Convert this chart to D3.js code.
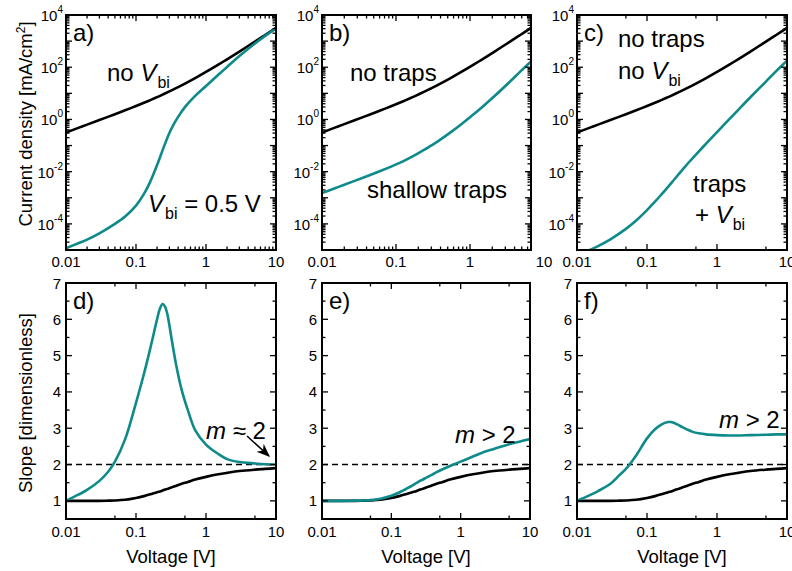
<!DOCTYPE html>
<html>
<head>
<meta charset="utf-8">
<script src="https://cdn.jsdelivr.net/npm/d3@7"></script>
<style>
  body { margin: 0; background: #fff; }
  svg text { font-family: "Liberation Sans", Arial, sans-serif; fill: #000; }
</style>
</head>
<body>
<div id="chart"></div>
<script>
// voltage grid for the J-V curves (top row)
var voltJ = [0.01, 0.015, 0.02, 0.03, 0.05, 0.07, 0.1, 0.13, 0.16, 0.2, 0.25, 0.3, 0.35, 0.4, 0.5, 0.7, 1, 1.5, 2, 3, 5, 7, 10];
// log10 of current density [mA/cm2]
var logJNoVbi   = [-0.5, -0.324, -0.199, -0.023, 0.201, 0.352, 0.514, 0.638, 0.74, 0.854, 0.973, 1.073, 1.16, 1.237, 1.371, 1.582, 1.819, 2.099, 2.304, 2.6, 2.98, 3.234, 3.506];
var logJVbi     = [-4.93, -4.74, -4.6, -4.36, -4.0, -3.72, -3.3, -2.85, -2.38, -1.75, -1.05, -0.52, -0.16, 0.1, 0.47, 0.9, 1.28, 1.71, 2.01, 2.43, 2.91, 3.2, 3.49];
var logJShallow = [-2.82, -2.644, -2.519, -2.343, -2.119, -1.967, -1.797, -1.662, -1.548, -1.415, -1.271, -1.148, -1.039, -0.942, -0.772, -0.495, -0.182, 0.196, 0.479, 0.896, 1.451, 1.83, 2.22];
var logJTrapsVbi= [-5.21, -5.01, -4.85, -4.59, -4.19, -3.87, -3.47, -3.15, -2.88, -2.58, -2.27, -2.02, -1.81, -1.63, -1.344, -0.924, -0.484, 0.01, 0.36, 0.85, 1.45, 1.85, 2.25];

// voltage grid for the slope curves (bottom row)
var voltS = [0.01, 0.015, 0.02, 0.03, 0.04, 0.05, 0.07, 0.1, 0.13, 0.16, 0.2, 0.22, 0.24, 0.26, 0.28, 0.32, 0.37, 0.45, 0.55, 0.7, 1, 1.5, 2, 3, 5, 7, 10];
var slopeNoVbi   = [1.0, 1.0, 1.0, 1.0, 1.005, 1.01, 1.03, 1.08, 1.13, 1.18, 1.24, 1.26, 1.285, 1.31, 1.33, 1.37, 1.41, 1.47, 1.52, 1.59, 1.66, 1.73, 1.77, 1.82, 1.86, 1.88, 1.9];
var slopeVbi     = [1.0, 1.17, 1.3, 1.55, 1.8, 2.08, 2.7, 3.7, 4.5, 5.2, 6.0, 6.3, 6.42, 6.35, 6.15, 5.5, 4.8, 4.05, 3.5, 2.95, 2.55, 2.29, 2.15, 2.07, 2.03, 2.01, 2.0];
var slopeShallow = [1.0, 1.0, 1.0, 1.005, 1.01, 1.02, 1.06, 1.14, 1.23, 1.32, 1.42, 1.47, 1.51, 1.55, 1.58, 1.64, 1.7, 1.79, 1.87, 1.96, 2.08, 2.22, 2.32, 2.43, 2.56, 2.63, 2.7];
var slopeTrapsVbi= [1.0, 1.15, 1.27, 1.47, 1.7, 1.88, 2.25, 2.72, 2.97, 3.1, 3.17, 3.17, 3.15, 3.12, 3.09, 3.03, 2.97, 2.9, 2.86, 2.83, 2.81, 2.8, 2.8, 2.81, 2.82, 2.83, 2.83];

var xTickLabels = ["0.01", "0.1", "1", "10"];
var jTickExps = [-4, -2, 0, 2, 4];
var slopeTicks = [1, 2, 3, 4, 5, 6, 7];

var black = "#000000", teal = "#0f8a8a";

var W = 792, H = 571;
var colLeft = [66, 322, 577], panelW = 210;
var rowTop = [15, 283], panelH = [235, 236];

var svg = d3.select("#chart").append("svg")
    .attr("width", W).attr("height", H);

var defs = svg.append("defs");
defs.append("marker")
    .attr("id", "arrow").attr("viewBox", "0 0 10 10")
    .attr("refX", 9).attr("refY", 5)
    .attr("markerWidth", 9).attr("markerHeight", 9)
    .attr("orient", "auto")
    .append("path").attr("d", "M0,1 L10,5 L0,9 L3,5 Z").attr("fill", "#000");

// inward ticks on all four sides
function drawFrame(g, x, y, xTicks, yTicks, w, h) {
    xTicks.forEach(function (t) {
        var px = x(t.v);
        if (px < -0.5 || px > w + 0.5) return;
        g.append("line").attr("x1", px).attr("x2", px).attr("y1", h).attr("y2", h - t.len)
            .attr("stroke", "#000").attr("stroke-width", 1.3);
        g.append("line").attr("x1", px).attr("x2", px).attr("y1", 0).attr("y2", t.len)
            .attr("stroke", "#000").attr("stroke-width", 1.3);
    });
    yTicks.forEach(function (t) {
        var py = y(t.v);
        g.append("line").attr("x1", 0).attr("x2", t.len).attr("y1", py).attr("y2", py)
            .attr("stroke", "#000").attr("stroke-width", 1.3);
        g.append("line").attr("x1", w).attr("x2", w - t.len).attr("y1", py).attr("y2", py)
            .attr("stroke", "#000").attr("stroke-width", 1.3);
    });
    g.append("rect").attr("width", w).attr("height", h)
        .attr("fill", "none").attr("stroke", "#000").attr("stroke-width", 2);
}

function logXTicks(dense) {
    var out = [];
    [-2, -1, 0].forEach(function (d) {
        out.push({ v: Math.pow(10, d), len: 6 });
        var ks = dense ? [2, 3, 4, 5, 6, 7, 8, 9] : [5];
        ks.forEach(function (k) { out.push({ v: k * Math.pow(10, d), len: 3.5 }); });
    });
    out.push({ v: 10, len: 6 });
    return out;
}

function addClip(id, w, h) {
    defs.append("clipPath").attr("id", id).append("rect").attr("width", w).attr("height", h);
}

function vbi(text, x, y, before, after) {
    var t = text.append("text").attr("x", x).attr("y", y).attr("font-size", 24);
    if (before) t.append("tspan").text(before);
    t.append("tspan").attr("font-style", "italic").text("V");
    t.append("tspan").attr("font-size", 16).attr("dy", 7).attr("dx", 1).text("bi");
    if (after) t.append("tspan").attr("dy", -7).text(after);
    return t;
}

// ---------- top row: J-V ----------
var topPanels = [
    { label: "a)", series: [logJNoVbi, logJVbi], dense: true, tickEnd: 210 },
    { label: "b)", series: [logJNoVbi, logJShallow], dense: true, tickEnd: 222 },
    { label: "c)", series: [logJNoVbi, logJTrapsVbi], dense: false, tickEnd: 210 }
];

topPanels.forEach(function (p, i) {
    var w = i === 1 ? 209 : panelW, h = panelH[0];
    var g = svg.append("g").attr("transform", "translate(" + colLeft[i] + "," + rowTop[0] + ")");
    var x = d3.scaleLog().domain([0.01, 10]).range([0, w]);
    var xt = d3.scaleLog().domain([0.01, 10]).range([0, p.tickEnd]);
    var y = d3.scaleLog().domain([1e-5, 1e4]).range([h, 0]);
    addClip("clipT" + i, w, h);

    var line = d3.line()
        .x(function (d) { return x(d[0]); })
        .y(function (d) { return y(Math.pow(10, d[1])); })
        .curve(d3.curveCatmullRom.alpha(0.5));
    var cg = g.append("g").attr("clip-path", "url(#clipT" + i + ")");
    p.series.forEach(function (s, k) {
        cg.append("path").datum(voltJ.map(function (v, j) { return [v, s[j]]; }))
            .attr("d", line).attr("fill", "none")
            .attr("stroke", k === 0 ? black : teal).attr("stroke-width", 2.6);
    });

    var yt = [];
    for (var e = -5; e <= 4; e++) {
        yt.push({ v: Math.pow(10, e), len: 6 });
        if (e < 4) for (var k = 2; k <= 9; k++) yt.push({ v: k * Math.pow(10, e), len: 3.5 });
    }
    drawFrame(g, xt, y, logXTicks(p.dense), yt, w, h);

    xTickLabels.forEach(function (s) {
        g.append("text").attr("x", xt(+s)).attr("y", h + 17).attr("text-anchor", "middle")
            .attr("font-size", 15).text(s);
    });
    jTickExps.forEach(function (ex) {
        var t = g.append("text").attr("x", -3).attr("y", y(Math.pow(10, ex)) + 6)
            .attr("text-anchor", "end").attr("font-size", 15);
        t.append("tspan").text("10");
        t.append("tspan").attr("font-size", 10).attr("dy", -8).text(ex);
    });
    g.append("text").attr("x", 7).attr("y", 26).attr("font-size", 24).text(p.label);
});

// top annotations
var gA = svg.append("g").attr("transform", "translate(" + colLeft[0] + "," + rowTop[0] + ")");
vbi(gA, 41, 66, "no ", null);
vbi(gA, 82, 197, null, " = 0.5 V");
var gB = svg.append("g").attr("transform", "translate(" + colLeft[1] + "," + rowTop[0] + ")");
gB.append("text").attr("x", 28).attr("y", 66).attr("font-size", 24).text("no traps");
gB.append("text").attr("x", 45).attr("y", 183).attr("font-size", 24).text("shallow traps");
var gC = svg.append("g").attr("transform", "translate(" + colLeft[2] + "," + rowTop[0] + ")");
gC.append("text").attr("x", 41).attr("y", 32).attr("font-size", 24).text("no traps");
vbi(gC, 41, 64, "no ", null);
gC.append("text").attr("x", 116).attr("y", 177).attr("font-size", 24).text("traps");
vbi(gC, 118, 208, "+ ", null);

// ---------- bottom row: slope ----------
var botPanels = [
    { label: "d)", series: [slopeNoVbi, slopeVbi], note: "\u2248 2" },
    { label: "e)", series: [slopeNoVbi, slopeShallow], note: "> 2" },
    { label: "f)", series: [slopeNoVbi, slopeTrapsVbi], note: "> 2" }
];

botPanels.forEach(function (p, i) {
    var w = i === 1 ? 208 : panelW, h = panelH[1];
    var g = svg.append("g").attr("transform", "translate(" + colLeft[i] + "," + rowTop[1] + ")");
    var x = d3.scaleLog().domain([0.01, 10]).range([0, w]);
    var y = d3.scaleLinear().domain([0.5, 7]).range([h, 0]);
    addClip("clipB" + i, w, h);

    g.append("line").attr("x1", 0).attr("x2", w).attr("y1", y(2)).attr("y2", y(2))
        .attr("stroke", "#000").attr("stroke-width", 1.5).attr("stroke-dasharray", "6,4");

    var line = d3.line()
        .x(function (d) { return x(d[0]); })
        .y(function (d) { return y(d[1]); })
        .curve(d3.curveCatmullRom.alpha(0.5));
    var cg = g.append("g").attr("clip-path", "url(#clipB" + i + ")");
    p.series.forEach(function (s, k) {
        cg.append("path").datum(voltS.map(function (v, j) { return [v, s[j]]; }))
            .attr("d", line).attr("fill", "none")
            .attr("stroke", k === 0 ? black : teal).attr("stroke-width", 2.6);
    });

    var yt = [];
    for (var v = 0.5; v <= 7; v += 0.5) yt.push({ v: v, len: v % 1 === 0 ? 6 : 3.5 });
    drawFrame(g, x, y, logXTicks(false), yt, w, h);

    xTickLabels.forEach(function (s) {
        g.append("text").attr("x", x(+s)).attr("y", h + 18).attr("text-anchor", "middle")
            .attr("font-size", 15).text(s);
    });
    slopeTicks.forEach(function (s) {
        g.append("text").attr("x", -5).attr("y", y(s) + 5.5).attr("text-anchor", "end")
            .attr("font-size", 15).text(s);
    });
    g.append("text").attr("x", w / 2).attr("y", h + 44).attr("text-anchor", "middle")
        .attr("font-size", 18.5).text("Voltage [V]");
    g.append("text").attr("x", 7).attr("y", 26).attr("font-size", 24).text(p.label);
});

// bottom annotations
function mText(g, x, y, rest) {
    var t = g.append("text").attr("x", x).attr("y", y).attr("font-size", 24);
    t.append("tspan").attr("font-style", "italic").text("m");
    t.append("tspan").text(" " + rest);
}
var gD = svg.append("g").attr("transform", "translate(" + colLeft[0] + "," + rowTop[1] + ")");
mText(gD, 140, 156, botPanels[0].note);
gD.append("line").attr("x1", 181).attr("y1", 153).attr("x2", 203).attr("y2", 173)
    .attr("stroke", "#000").attr("stroke-width", 1.5).attr("marker-end", "url(#arrow)");
var gE = svg.append("g").attr("transform", "translate(" + colLeft[1] + "," + rowTop[1] + ")");
mText(gE, 133, 160, botPanels[1].note);
var gF = svg.append("g").attr("transform", "translate(" + colLeft[2] + "," + rowTop[1] + ")");
mText(gF, 142, 145, botPanels[2].note);

// y axis titles
svg.append("text").attr("transform", "translate(32,124) rotate(-90)")
    .attr("text-anchor", "middle").attr("font-size", 18.5)
    .call(function (t) {
        t.append("tspan").text("Current density [mA/cm");
        t.append("tspan").attr("font-size", 12).attr("dy", -7).text("2");
        t.append("tspan").attr("dy", 7).text("]");
    });
svg.append("text").attr("transform", "translate(32,403) rotate(-90)")
    .attr("text-anchor", "middle").attr("font-size", 18.5).text("Slope [dimensionless]");
</script>
</body>
</html>
